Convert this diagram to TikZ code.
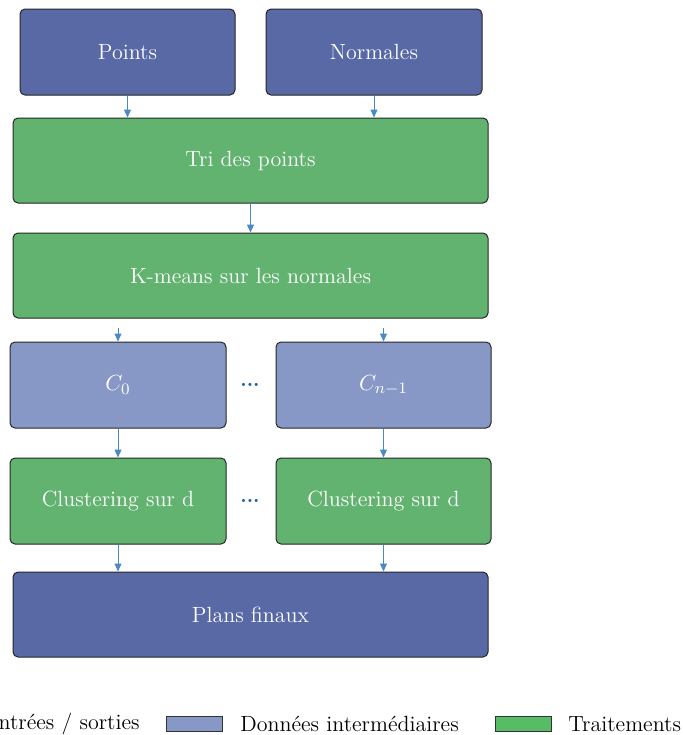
\documentclass[tikz,border=0pt]{standalone}
\usetikzlibrary{arrows.meta}
\definecolor{ioblue}{HTML}{5869A5}
\definecolor{midblue}{HTML}{8797C6}
\definecolor{procgreen}{HTML}{62B370}
\definecolor{arrowblue}{HTML}{4A8AC4}
\definecolor{dotblue}{HTML}{1F5FA0}
\begin{document}
\begin{tikzpicture}[x=0.5pt,y=-0.5pt,
  box/.style={draw=black!85,line width=0.5pt,rounded corners=2.5pt,text=white,font=\fontsize{11}{13}\selectfont,inner sep=0pt},
  iobox/.style={box,fill=ioblue},
  midbox/.style={box,fill=midblue},
  procbox/.style={box,fill=procgreen},
  arr/.style={draw=arrowblue,line width=0.5pt,-{Triangle[length=4pt,width=3.5pt]}},
  swatch/.style={draw=black!80,line width=0.5pt,minimum width=28pt,minimum height=7.5pt,inner sep=0pt},
  legtext/.style={font=\fontsize{11}{13}\selectfont,inner sep=0pt}
]
\useasboundingbox (0,0) rectangle (683,735);
% top inputs
\node[iobox,minimum width=107.5pt,minimum height=43pt] (pts) at (127.5,52) {Points};
\node[iobox,minimum width=108pt,minimum height=43pt] (nor) at (374,52) {Normales};
% processing
\node[procbox,minimum width=237.5pt,minimum height=42.5pt] (tri) at (250.5,160.5) {Tri des points};
\node[procbox,minimum width=237.5pt,minimum height=42.5pt] (km) at (250.5,275.5) {K-means sur les normales};
% clusters
\node[midbox,minimum width=108pt,minimum height=43pt] (c0) at (118,385) {$C_0$};
\node[midbox,minimum width=107.5pt,minimum height=43pt] (cn) at (383.5,385) {$C_{n-1}$};
\node[text=dotblue,inner sep=0pt] (d1) at (250,385) {\textbf{...}};
\node[procbox,minimum width=108pt,minimum height=43pt] (cl0) at (118,501) {Clustering sur d};
\node[procbox,minimum width=107.5pt,minimum height=43pt] (cln) at (383.5,501) {Clustering sur d};
\node[text=dotblue,inner sep=0pt] (d2) at (250,501) {\textbf{...}};
\node[iobox,minimum width=237.5pt,minimum height=42.5pt] (plans) at (250.5,614.5) {Plans finaux};
% connectors
\draw[arr] (pts.south) -- (pts.south |- tri.north);
\draw[arr] (nor.south) -- (nor.south |- tri.north);
\draw[arr] (tri) -- (km);
\coordinate (ks0) at ([yshift=-4.5pt]km.south -| c0.north);
\coordinate (ksn) at ([yshift=-4.5pt]km.south -| cn.north);
\draw[arr] (ks0) -- (c0.north);
\draw[arr] (ksn) -- (cn.north);
\draw[arr] (c0) -- (cl0);
\draw[arr] (cn) -- (cln);
\draw[arr] (cl0.south) -- (cl0.south |- plans.north);
\draw[arr] (cln.south) -- (cln.south |- plans.north);
% legend
\node[legtext,anchor=east] (t1) at (140,724) {Entrées / sorties};
\node[swatch,fill=ioblue,anchor=east] (s1) at ([xshift=-13pt]t1.west) {};
\node[swatch,fill=midblue] (s2) at (194.5,724) {};
\node[legtext,anchor=west] (t2) at (240,724) {Données intermédiaires};
\node[swatch,fill=procgreen!90!green] (s3) at (523,724) {};
\node[legtext,anchor=west] (t3) at (568,724) {Traitements};
\end{tikzpicture}
\end{document}
